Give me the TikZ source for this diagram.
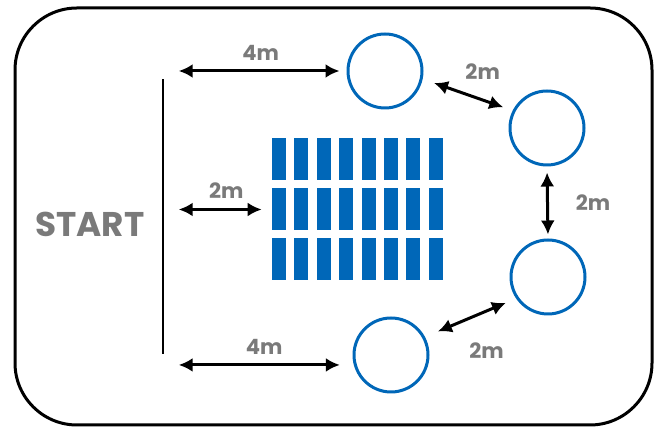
\documentclass[tikz,border=0pt]{standalone}
\usepackage{fontspec}
\setmainfont{Poppins}
\usepackage{tikz}
\usetikzlibrary{arrows.meta}
\usetikzlibrary{positioning}
\definecolor{coneblue}{HTML}{0067B8}
\definecolor{labgray}{HTML}{7A7A7A}
\tikzset{cone/.style={circle,draw=coneblue,line width=0.06cm,minimum size=1.48cm,inner sep=0pt},
  dimarrow/.style={<->,line width=0.06cm},
  dist/.style={text=labgray,font=\bfseries\fontsize{12}{14}\selectfont}}

\begin{document}
\begin{tikzpicture}[>={Latex[length=2.8mm,width=2.8mm]},line join=round]
\useasboundingbox (0,0) rectangle (13.16,8.58);
% --- course border
\draw[line width=0.06cm,rounded corners=1.24cm] (0.30,0.08) rectangle (13.04,8.42);
% --- start line
\node[fill=black,inner sep=0pt,minimum width=0.055cm,minimum height=5.5cm] (line) at (3.26,4.25) {};
\node[text=labgray,font=\bfseries\fontsize{19.5}{22}\selectfont] (start) at (1.80,4.10) {START};
% --- cones
\node[cone] (c1) at (7.70,7.16) {};
\node[cone] (c2) at (10.94,6.02) {};
\node[cone] (c3) at (10.96,3.04) {};
\node[cone] (c4) at (7.82,1.48) {};
% --- hurdles, 8 x 3
\node[inner sep=0pt,minimum width=3.42cm,minimum height=2.82cm] (grid) at (7.15,4.39) {};
\foreach \i in {0,...,7} \foreach \j in {0,1,2}
  \fill[coneblue] (5.44+0.448*\i,2.97+\j) rectangle ++(0.28,0.84);
% --- distances
\draw[dimarrow,shorten <=0.28cm,shorten >=0.14cm] (line.east |- c1.west) -- (c1.west)
  node[dist,midway,above=2pt,xshift=0.1cm] {4m};
\draw[dimarrow,shorten <=0.28cm,shorten >=0.2cm] (line.east |- grid.west) -- (grid.west)
  node[dist,midway,above=2pt,xshift=0.16cm] {2m};
\draw[dimarrow,shorten <=0.28cm,shorten >=0.28cm] (line.east |- c4.195) -- (c4.195)
  node[dist,midway,above=2pt,xshift=0.1cm] {4m};
\draw[dimarrow,shorten <=0.24cm,shorten >=0.2cm] (c1.-12) -- (c2.153)
  node[dist,midway,above=0.16cm,xshift=0.3cm] {2m};
\draw[dimarrow,shorten <=0.12cm,shorten >=0.08cm] (c2.south) -- (c3.north)
  node[dist,midway,right=0.42cm] {2m};
\draw[dimarrow,shorten <=0.28cm,shorten >=0.22cm] (c4.28) -- (c3.214)
  node[dist,midway,below=0.36cm,xshift=0.32cm] {2m};
\end{tikzpicture}
\end{document}
